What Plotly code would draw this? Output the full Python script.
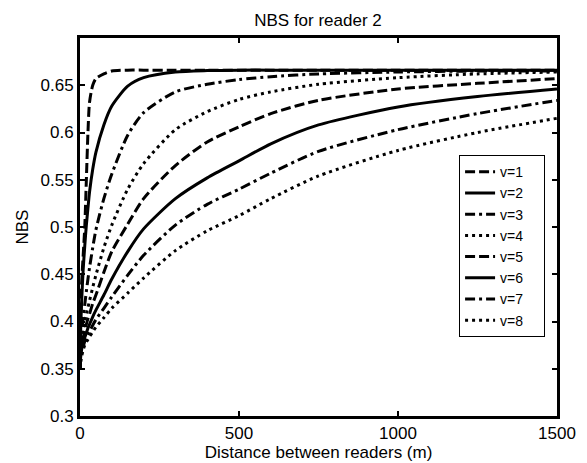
import plotly.graph_objects as go

# Distance between readers (m)
distance = [0, 2, 5, 10, 15, 20, 25, 30, 40, 50, 75, 100, 150, 200, 300, 400,
            500, 600, 750, 1000, 1250, 1500]

# NBS for each v
nbs_v1 = [0.35, 0.40, 0.44, 0.47, 0.50, 0.55, 0.60, 0.632, 0.650, 0.657, 0.662, 0.665,
          0.666, 0.666, 0.666, 0.666, 0.666, 0.666, 0.666, 0.666, 0.666, 0.666]
nbs_v2 = [0.35, 0.39, 0.42, 0.455, 0.48, 0.502, 0.52, 0.537, 0.561, 0.579, 0.608, 0.628,
          0.649, 0.658, 0.664, 0.6655, 0.666, 0.666, 0.666, 0.666, 0.666, 0.666]
nbs_v3 = [0.35, 0.374, 0.388, 0.404, 0.418, 0.432, 0.445, 0.457, 0.478, 0.497, 0.530, 0.556,
          0.597, 0.621, 0.643, 0.651, 0.656, 0.659, 0.662, 0.664, 0.665, 0.665]
nbs_v4 = [0.35, 0.369, 0.380, 0.391, 0.400, 0.408, 0.415, 0.422, 0.436, 0.449, 0.478, 0.502,
          0.540, 0.567, 0.603, 0.622, 0.635, 0.643, 0.651, 0.658, 0.662, 0.664]
nbs_v5 = [0.35, 0.365, 0.374, 0.383, 0.390, 0.397, 0.403, 0.408, 0.419, 0.428, 0.452, 0.474,
          0.503, 0.530, 0.565, 0.590, 0.606, 0.620, 0.634, 0.646, 0.652, 0.657]
nbs_v6 = [0.35, 0.362, 0.370, 0.378, 0.383, 0.388, 0.393, 0.397, 0.405, 0.412, 0.428, 0.445,
          0.474, 0.498, 0.530, 0.552, 0.570, 0.588, 0.608, 0.627, 0.638, 0.646]
nbs_v7 = [0.35, 0.358, 0.366, 0.373, 0.379, 0.382, 0.386, 0.389, 0.396, 0.402, 0.414, 0.426,
          0.449, 0.470, 0.502, 0.524, 0.540, 0.557, 0.580, 0.603, 0.620, 0.634]
nbs_v8 = [0.35, 0.357, 0.363, 0.370, 0.375, 0.378, 0.381, 0.384, 0.389, 0.394, 0.404, 0.414,
          0.430, 0.446, 0.475, 0.496, 0.512, 0.530, 0.554, 0.581, 0.600, 0.615]

series_names = ["v=1", "v=2", "v=3", "v=4", "v=5", "v=6", "v=7", "v=8"]
series_values = [nbs_v1, nbs_v2, nbs_v3, nbs_v4, nbs_v5, nbs_v6, nbs_v7, nbs_v8]

x_tick_vals = [0, 500, 1000, 1500]
x_tick_text = ["0", "500", "1000", "1500"]
y_tick_vals = [0.3, 0.35, 0.4, 0.45, 0.5, 0.55, 0.6, 0.65]
y_tick_text = ["0.3", "0.35", "0.4", "0.45", "0.5", "0.55", "0.6", "0.65"]

DASHED = "10px,4px"
SOLID = "solid"
DASHDOT = "10px,4px,3px,4px"
DOTTED = "3px,4px"
dash_styles = [DASHED, SOLID, DASHDOT, DOTTED, DASHED, SOLID, DASHDOT, DOTTED]

LEGEND_PAD = "\u00a0" * 4  # widens the legend box to the right of the labels

fig = go.Figure()
for name, vals, dash in zip(series_names, series_values, dash_styles):
    fig.add_trace(go.Scatter(
        x=distance, y=vals, mode="lines", name=name + LEGEND_PAD,
        line=dict(color="black", width=3, dash=dash, shape="spline", smoothing=0.7),
    ))

axis_common = dict(
    showline=True, linecolor="black", linewidth=3, mirror="allticks",
    ticks="inside", ticklen=5, tickwidth=2, tickcolor="black",
    showgrid=False, zeroline=False, automargin=False,
    tickfont=dict(size=17, color="black"),
)

# The page body has an 8px margin, so the figure is sized and offset to fit.
fig.update_layout(
    width=579, height=455,
    margin=dict(l=72, r=30, t=30, b=47),
    paper_bgcolor="white", plot_bgcolor="white",
    font=dict(family="Liberation Sans, Arial, sans-serif", size=17, color="black"),
    title=dict(text="NBS for reader 2", x=310 / 579, xanchor="center",
               y=1 - 12 / 455, yanchor="middle", yref="container",
               font=dict(size=17, color="black")),
    xaxis=dict(range=[0, 1500], tickvals=x_tick_vals, ticktext=x_tick_text,
               title=dict(text="Distance between readers (m)", standoff=0,
                          font=dict(size=17)),
               **axis_common),
    yaxis=dict(range=[0.3, 0.7], tickvals=y_tick_vals, ticktext=y_tick_text,
               title=dict(text="NBS", standoff=8, font=dict(size=17)),
               **axis_common),
    legend=dict(x=0.975, xanchor="right", y=0.69, yanchor="top",
                bgcolor="white", bordercolor="black", borderwidth=1,
                font=dict(size=14, color="black"), tracegroupgap=0),
)

fig.write_html("out.html")
